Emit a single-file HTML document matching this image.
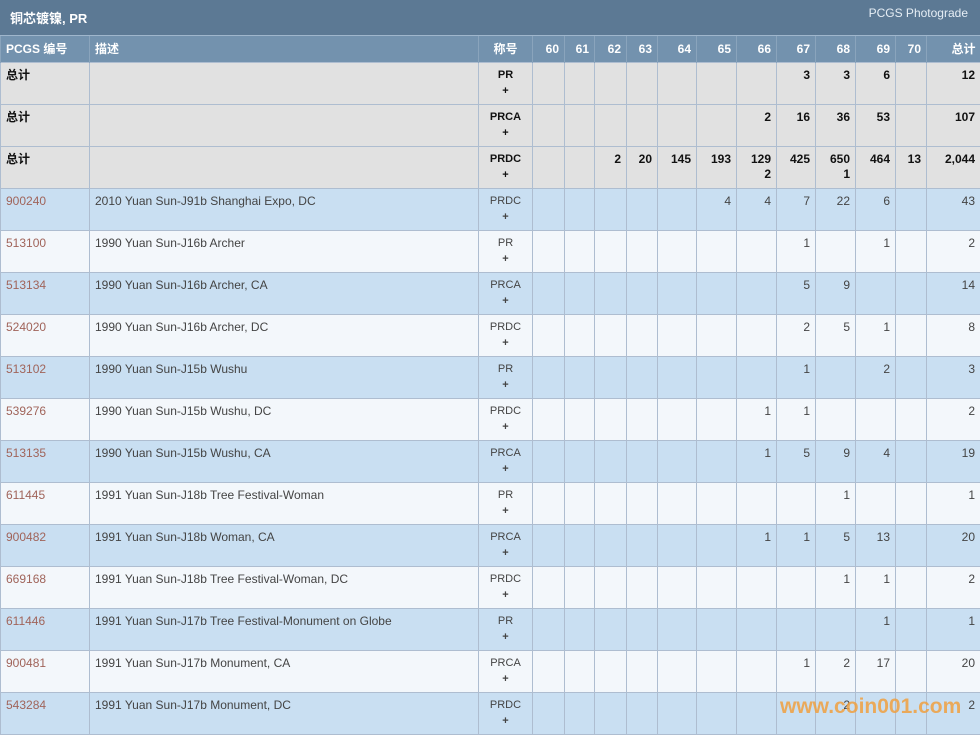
<!DOCTYPE html>
<html><head><meta charset="utf-8"><style>
body{margin:0;width:980px;height:735px;overflow:hidden;background:#fff;font-family:"Liberation Sans","Noto Sans CJK SC",sans-serif;position:relative}
.title{height:36px;background:#5c7994;color:#fff;position:relative;border-bottom:1px solid #9fb6cc;box-sizing:border-box}
.title .l{position:absolute;left:10px;top:8px;font-size:13px;font-weight:bold}
.title .r{position:absolute;right:12px;top:6px;font-size:12px;color:#e6eef5}
table{border-collapse:collapse;table-layout:fixed;width:980px;font-size:12px}
tr{height:42px}
tr.h{height:26px}
th{background:#7392ae;color:#fff;text-align:right;padding:0 5px;font-size:12px;border-left:1px solid #8aa4bc}
th.lft{text-align:left}
td{vertical-align:top;padding:5px 5px 0;border:1px solid #aebdd0;text-align:right;color:#444;line-height:15px;box-sizing:border-box}
td.c{text-align:center;font-size:11px}
td.l{text-align:left}
tr.g td{background:#e1e1e1;font-weight:bold;color:#111}
tr.b td{background:#c9dff2}
tr.w td{background:#f3f7fb}
td.id{color:#a0645a}
.p{display:block;font-weight:bold;font-size:11px;line-height:12px;margin-top:2px}
.wm{position:absolute;left:780px;top:695px;font-size:21px;font-weight:bold;color:#f0a040;opacity:.85}
</style></head><body>
<div class="title"><span class="l">铜芯镀镍, PR</span><span class="r">PCGS Photograde</span></div>
<table>
<colgroup><col style="width:89px"><col style="width:389px"><col style="width:54px"><col style="width:32px"><col style="width:30px"><col style="width:32px"><col style="width:31px"><col style="width:39px"><col style="width:40px"><col style="width:40px"><col style="width:39px"><col style="width:40px"><col style="width:40px"><col style="width:31px"><col style="width:54px"></colgroup>
<tr class="h"><th class="lft">PCGS 编号</th><th class="lft">描述</th><th style="text-align:center">称号</th><th>60</th><th>61</th><th>62</th><th>63</th><th>64</th><th>65</th><th>66</th><th>67</th><th>68</th><th>69</th><th>70</th><th>总计</th></tr>
<tr class="g"><td class="l">总计</td><td></td><td class="c">PR<span class="p">+</span></td><td></td><td></td><td></td><td></td><td></td><td></td><td></td><td>3</td><td>3</td><td>6</td><td></td><td>12</td></tr>
<tr class="g"><td class="l">总计</td><td></td><td class="c">PRCA<span class="p">+</span></td><td></td><td></td><td></td><td></td><td></td><td></td><td>2</td><td>16</td><td>36</td><td>53</td><td></td><td>107</td></tr>
<tr class="g"><td class="l">总计</td><td></td><td class="c">PRDC<span class="p">+</span></td><td></td><td></td><td>2</td><td>20</td><td>145</td><td>193</td><td>129<br>2</td><td>425</td><td>650<br>1</td><td>464</td><td>13</td><td>2,044</td></tr>
<tr class="b"><td class="l id">900240</td><td class="l">2010 Yuan Sun-J91b Shanghai Expo, DC</td><td class="c">PRDC<span class="p">+</span></td><td></td><td></td><td></td><td></td><td></td><td>4</td><td>4</td><td>7</td><td>22</td><td>6</td><td></td><td>43</td></tr>
<tr class="w"><td class="l id">513100</td><td class="l">1990 Yuan Sun-J16b Archer</td><td class="c">PR<span class="p">+</span></td><td></td><td></td><td></td><td></td><td></td><td></td><td></td><td>1</td><td></td><td>1</td><td></td><td>2</td></tr>
<tr class="b"><td class="l id">513134</td><td class="l">1990 Yuan Sun-J16b Archer, CA</td><td class="c">PRCA<span class="p">+</span></td><td></td><td></td><td></td><td></td><td></td><td></td><td></td><td>5</td><td>9</td><td></td><td></td><td>14</td></tr>
<tr class="w"><td class="l id">524020</td><td class="l">1990 Yuan Sun-J16b Archer, DC</td><td class="c">PRDC<span class="p">+</span></td><td></td><td></td><td></td><td></td><td></td><td></td><td></td><td>2</td><td>5</td><td>1</td><td></td><td>8</td></tr>
<tr class="b"><td class="l id">513102</td><td class="l">1990 Yuan Sun-J15b Wushu</td><td class="c">PR<span class="p">+</span></td><td></td><td></td><td></td><td></td><td></td><td></td><td></td><td>1</td><td></td><td>2</td><td></td><td>3</td></tr>
<tr class="w"><td class="l id">539276</td><td class="l">1990 Yuan Sun-J15b Wushu, DC</td><td class="c">PRDC<span class="p">+</span></td><td></td><td></td><td></td><td></td><td></td><td></td><td>1</td><td>1</td><td></td><td></td><td></td><td>2</td></tr>
<tr class="b"><td class="l id">513135</td><td class="l">1990 Yuan Sun-J15b Wushu, CA</td><td class="c">PRCA<span class="p">+</span></td><td></td><td></td><td></td><td></td><td></td><td></td><td>1</td><td>5</td><td>9</td><td>4</td><td></td><td>19</td></tr>
<tr class="w"><td class="l id">611445</td><td class="l">1991 Yuan Sun-J18b Tree Festival-Woman</td><td class="c">PR<span class="p">+</span></td><td></td><td></td><td></td><td></td><td></td><td></td><td></td><td></td><td>1</td><td></td><td></td><td>1</td></tr>
<tr class="b"><td class="l id">900482</td><td class="l">1991 Yuan Sun-J18b Woman, CA</td><td class="c">PRCA<span class="p">+</span></td><td></td><td></td><td></td><td></td><td></td><td></td><td>1</td><td>1</td><td>5</td><td>13</td><td></td><td>20</td></tr>
<tr class="w"><td class="l id">669168</td><td class="l">1991 Yuan Sun-J18b Tree Festival-Woman, DC</td><td class="c">PRDC<span class="p">+</span></td><td></td><td></td><td></td><td></td><td></td><td></td><td></td><td></td><td>1</td><td>1</td><td></td><td>2</td></tr>
<tr class="b"><td class="l id">611446</td><td class="l">1991 Yuan Sun-J17b Tree Festival-Monument on Globe</td><td class="c">PR<span class="p">+</span></td><td></td><td></td><td></td><td></td><td></td><td></td><td></td><td></td><td></td><td>1</td><td></td><td>1</td></tr>
<tr class="w"><td class="l id">900481</td><td class="l">1991 Yuan Sun-J17b Monument, CA</td><td class="c">PRCA<span class="p">+</span></td><td></td><td></td><td></td><td></td><td></td><td></td><td></td><td>1</td><td>2</td><td>17</td><td></td><td>20</td></tr>
<tr class="b"><td class="l id">543284</td><td class="l">1991 Yuan Sun-J17b Monument, DC</td><td class="c">PRDC<span class="p">+</span></td><td></td><td></td><td></td><td></td><td></td><td></td><td></td><td></td><td>2</td><td></td><td></td><td>2</td></tr>
</table>
<div class="wm">www.coin001.com</div>
</body></html>
